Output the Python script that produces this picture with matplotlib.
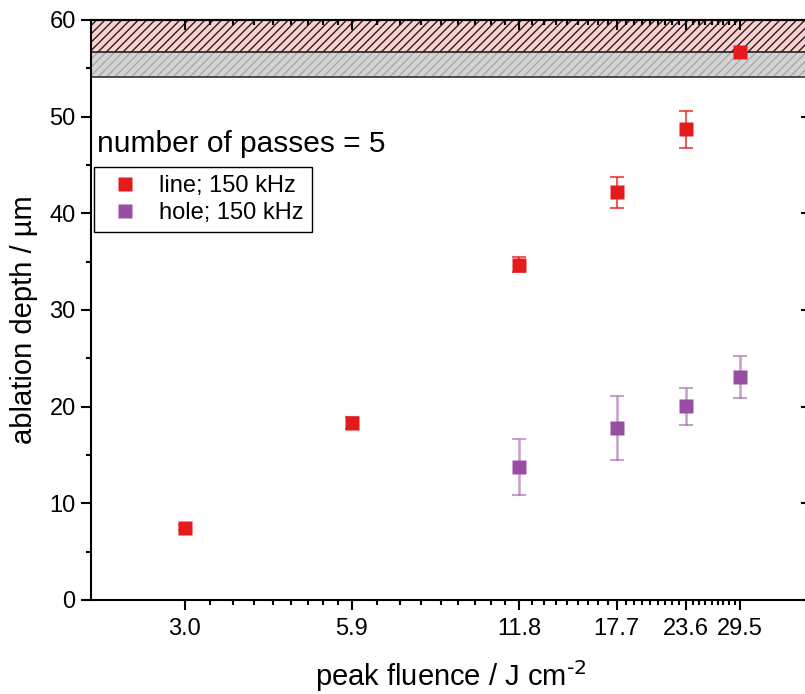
import numpy as np
import matplotlib
matplotlib.use('Agg')
import matplotlib.pyplot as plt
from matplotlib.lines import Line2D
from matplotlib.ticker import FixedLocator, NullFormatter, MultipleLocator

plt.rcParams['font.family'] = ['Liberation Sans', 'DejaVu Sans']
plt.rcParams['mathtext.default'] = 'regular'
plt.rcParams['hatch.linewidth'] = 1.0

# data
fluence = [2.95, 5.9, 11.8, 17.7, 23.6, 29.5]
fluence_labels = ['3.0', '5.9', '11.8', '17.7', '23.6', '29.5']

line_x = [2.95, 5.9, 11.8, 17.7, 23.6, 29.5]
line_depth = [7.5, 18.3, 34.7, 42.2, 48.7, 56.7]
line_err = [0.3, 0.6, 0.8, 1.6, 1.9, 0.0]

hole_x = [11.8, 17.7, 23.6, 29.5]
hole_depth = [13.75, 17.8, 20.05, 23.05]
hole_err = [2.9, 3.3, 1.9, 2.2]

# thickness bands at the top
red_band = (56.7, 60.0)
gray_band = (54.1, 56.7)

red = '#E41A1C'
purple = '#984EA3'

fig = plt.figure(figsize=(8.05, 6.94), dpi=100)
ax = fig.add_axes([91/805, 94/694, 720/805, 580/694])

ax.axhspan(gray_band[0], gray_band[1], facecolor='#D4D4D4', edgecolor='#AAAAAA',
           hatch='////', lw=0, zorder=1)
ax.axhline(gray_band[0], color='#333333', lw=1.2, zorder=2)
ax.axhspan(red_band[0], red_band[1], facecolor='#FFD0D0', edgecolor='#222222',
           hatch='////', lw=1.2, zorder=1)

ax.errorbar(line_x, line_depth, yerr=line_err, fmt='s', ms=9.5, color=red,
            ecolor=(0.89, 0.1, 0.11, 0.7), elinewidth=1.5, capsize=5, capthick=1.5,
            mec='none', zorder=4)
ax.errorbar(hole_x, hole_depth, yerr=hole_err, fmt='s', ms=9.5, color=purple,
            ecolor=(0.6, 0.31, 0.64, 0.55), elinewidth=1.8, capsize=5, capthick=1.5,
            mec='none', zorder=4)

ax.set_xscale('log')
ax.set_xlim(2.0, 39.6)
ax.set_ylim(0, 60)

# Origin-style ticks: majors at data fluences, 8 linear minors in between
minor = np.concatenate([np.linspace(a, b, 10)[1:-1] for a, b in zip(fluence[:-1], fluence[1:])])
ax.xaxis.set_major_locator(FixedLocator(fluence))
ax.xaxis.set_minor_locator(FixedLocator(minor))
ax.set_xticklabels(fluence_labels)
ax.xaxis.set_minor_formatter(NullFormatter())
ax.yaxis.set_major_locator(MultipleLocator(10))
ax.yaxis.set_minor_locator(MultipleLocator(5))

ax.tick_params(axis='both', which='major', labelsize=17, width=1.5, length=7, direction='out')
ax.tick_params(axis='both', which='minor', width=1.5, length=3.5, direction='out')
ax.tick_params(axis='x', pad=6)
ax.tick_params(axis='y', pad=4)
for s in ax.spines.values():
    s.set_linewidth(1.5)
    s.set_zorder(5)

# mirrored inward ticks on top and right
top = ax.secondary_xaxis('top')
top.set_zorder(10)
top.xaxis.set_major_locator(FixedLocator(fluence))
top.xaxis.set_minor_locator(FixedLocator(minor))
top.xaxis.set_major_formatter(NullFormatter())
top.xaxis.set_minor_formatter(NullFormatter())
top.tick_params(which='major', direction='in', length=7, width=1.5)
top.tick_params(which='minor', direction='in', length=3.5, width=1.5)
top.spines['top'].set_linewidth(1.5)

right = ax.secondary_yaxis('right')
right.set_zorder(10)
right.yaxis.set_major_locator(MultipleLocator(10))
right.yaxis.set_minor_locator(MultipleLocator(5))
right.yaxis.set_major_formatter(NullFormatter())
right.tick_params(which='major', direction='in', length=7, width=1.5)
right.tick_params(which='minor', direction='in', length=3.5, width=1.5)

ax.set_xlabel(r'peak fluence / J cm$^{\text{-2}}$', fontsize=21, labelpad=13)
ax.set_ylabel('ablation depth / µm', fontsize=21)
ax.yaxis.set_label_coords(-0.074, 0.483)

ax.text(0.008, 0.787, 'number of passes = 5', transform=ax.transAxes, fontsize=21.5,
        ha='left', va='center')
handles = [Line2D([], [], ls='none', marker='s', ms=9.5, color=red, mec='none'),
           Line2D([], [], ls='none', marker='s', ms=9.5, color=purple, mec='none')]
leg = ax.legend(handles, ['line; 150 kHz', 'hole; 150 kHz'], loc='upper left',
                bbox_to_anchor=(0.004, 0.7466), borderaxespad=0, fontsize=17,
                frameon=True, fancybox=False, edgecolor='black', handletextpad=0.5,
                borderpad=0.35, labelspacing=0.2, handlelength=1.9)
leg.get_frame().set_linewidth(1.0)
leg.get_frame().set_alpha(1)

fig.savefig('out.png', dpi=100)
